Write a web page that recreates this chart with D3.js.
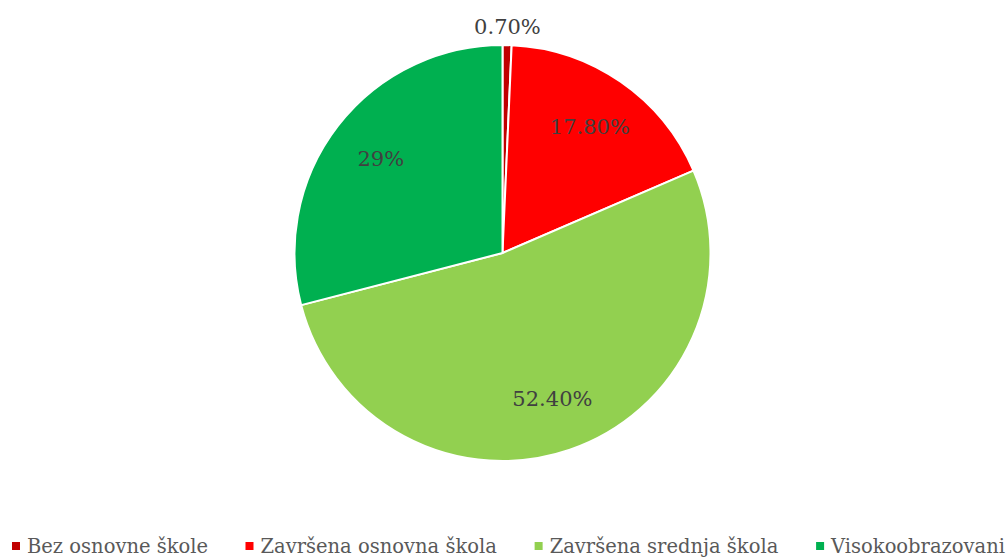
<!DOCTYPE html>
<html>
<head>
<meta charset="utf-8">
<script src="https://cdn.jsdelivr.net/npm/d3@7"></script>
<style>
  body { margin: 0; background: #fff; }
  text { font-family: "DejaVu Serif", serif; }
</style>
</head>
<body>
<div id="chart"></div>
<script>
var width = 1007
var height = 557

var categories = ["Bez osnovne škole", "Završena osnovna škola", "Završena srednja škola", "Visokoobrazovani"]
var values = [0.7, 17.8, 52.4, 29]
var labels = ["0.70%", "17.80%", "52.40%", "29%"]
var colors = ["#C00000", "#FF0000", "#92D050", "#00B050"]

var cx = 502.5
var cy = 253
var radius = 208

var svg = d3.select("#chart")
    .append("svg")
    .attr("width", width)
    .attr("height", height)

var pie = d3.pie()
    .sort(null)
    .value(d => d)

var arcs = pie(values)

var arc = d3.arc()
    .innerRadius(0)
    .outerRadius(radius)

var labelArc = d3.arc()
    .innerRadius(radius * 0.74)
    .outerRadius(radius * 0.74)

var outerArc = d3.arc()
    .innerRadius(radius + 18)
    .outerRadius(radius + 18)

var g = svg.append("g")
    .attr("transform", "translate(" + cx + "," + cy + ")")

g.selectAll("path")
    .data(arcs)
    .enter()
    .append("path")
    .attr("d", arc)
    .attr("fill", (d, i) => colors[i])
    .attr("stroke", "#fff")
    .attr("stroke-width", 2)
    .attr("stroke-linejoin", "round")

g.selectAll(".lbl")
    .data(arcs)
    .enter()
    .append("text")
    .attr("class", "lbl")
    .attr("transform", function(d){
        // small slices sit outside the pie
        var c = (d.endAngle - d.startAngle) < 0.2 ? outerArc.centroid(d) : labelArc.centroid(d)
        return "translate(" + c[0] + "," + c[1] + ")"
    })
    .attr("text-anchor", "middle")
    .attr("dy", "0.35em")
    .attr("font-size", "21px")
    .attr("fill", "#404040")
    .text((d, i) => labels[i])

// legend, spread between x=12 and x=1005
var legend = svg.append("g")
    .attr("transform", "translate(0,546)")

var items = legend.selectAll("g")
    .data(categories)
    .enter()
    .append("g")

items.append("rect")
    .attr("width", 8)
    .attr("height", 8)
    .attr("y", -4)
    .attr("fill", (d, i) => colors[i])

items.append("text")
    .attr("x", 15)
    .attr("y", 0)
    .attr("dy", "0.35em")
    .attr("font-size", "19.5px")
    .attr("fill", "#595959")
    .text(d => d)

var widths = []
items.each(function(){
    widths.push(this.getBBox().width)
})
var gap = Math.max(16, (993 - d3.sum(widths)) / (widths.length - 1))
var total = d3.sum(widths) + gap * (widths.length - 1)
var x0 = 12 + (993 - total) / 2
items.attr("transform", function(d, i){
    var x = x0 + d3.sum(widths.slice(0, i)) + gap * i
    return "translate(" + x + ",0)"
})
</script>
</body>
</html>
